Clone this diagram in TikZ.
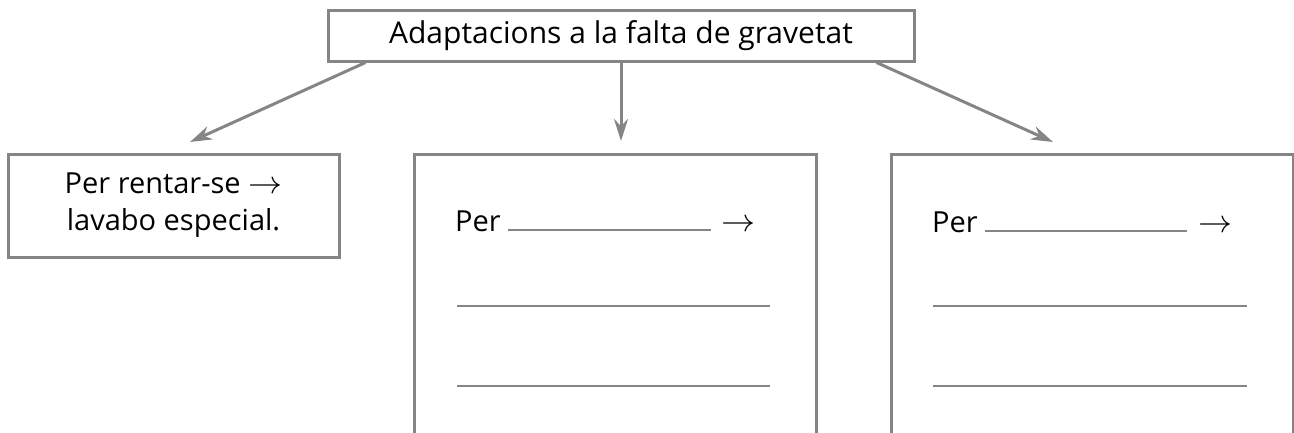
\documentclass[tikz,border=0pt]{standalone}
\usepackage{fontspec}
\usepackage{graphicx}
\setmainfont{Open Sans}
\usetikzlibrary{arrows.meta}
\definecolor{lgray}{HTML}{858585}
\newcommand{\bigarr}{{\fontsize{10}{12}\selectfont\scalebox{3.4}[3.2]{$\rightarrow$}}}
\tikzset{
  box/.style={draw=lgray, line width=3pt, fill=none, inner sep=0pt, align=center},
  conn/.style={draw=lgray, line width=3pt, -{Stealth[length=22pt,width=14pt]}},
  blank/.style={draw=lgray, line width=1.6pt},
  txt/.style={anchor=base west, inner sep=0pt, font=\fontsize{29}{37}\selectfont},
}
\begin{document}
\begin{tikzpicture}[x=1pt,y=-1pt]
\useasboundingbox (0,0) rectangle (1294,432);
\clip (0,0) rectangle (1294,432);
% title
\node[box, minimum width=586pt, minimum height=51pt, font=\fontsize{30}{36}\selectfont] (title) at (621,35.5) {Adaptacions a la falta de gravetat};
% boxes
\node[box, minimum width=331pt, minimum height=103pt, font=\fontsize{29}{37}\selectfont] (left) at (173.5,205.5) {Per rentar-se \bigarr\\lavabo especial.};
\node[box, minimum width=402pt, minimum height=320pt] (mid) at (615,314) {};
\node[box, minimum width=402pt, minimum height=320pt] (right) at (1092,314) {};
% arrow ends
\coordinate (le) at (190,142);
\coordinate (me) at (621,141);
\coordinate (re) at (1053,142);
\draw[conn] ([xshift=39pt]title.south west) -- (le);
\draw[conn] (title.south -| me) -- (me);
\draw[conn] ([xshift=-39pt]title.south east) -- (re);
% middle box content
\node[txt] (mper) at (455,231) {Per};
\coordinate (mb1) at (508,230); \coordinate (mb2) at (711,230);
\draw[blank] (mb1) -- (mb2);
\node[txt] (marr) at (721,231) {\bigarr};
\coordinate (ml1a) at (457,306); \coordinate (ml1b) at (770,306);
\coordinate (ml2a) at (457,386); \coordinate (ml2b) at (770,386);
\draw[blank] (ml1a) -- (ml1b);
\draw[blank] (ml2a) -- (ml2b);
% right box content
\node[txt] (rper) at (932,232) {Per};
\coordinate (rb1) at (985,231); \coordinate (rb2) at (1187,231);
\draw[blank] (rb1) -- (rb2);
\node[txt] (rarr) at (1198,232) {\bigarr};
\coordinate (rl1a) at (933,306); \coordinate (rl1b) at (1247,306);
\coordinate (rl2a) at (933,386); \coordinate (rl2b) at (1247,386);
\draw[blank] (rl1a) -- (rl1b);
\draw[blank] (rl2a) -- (rl2b);
\end{tikzpicture}
\end{document}
